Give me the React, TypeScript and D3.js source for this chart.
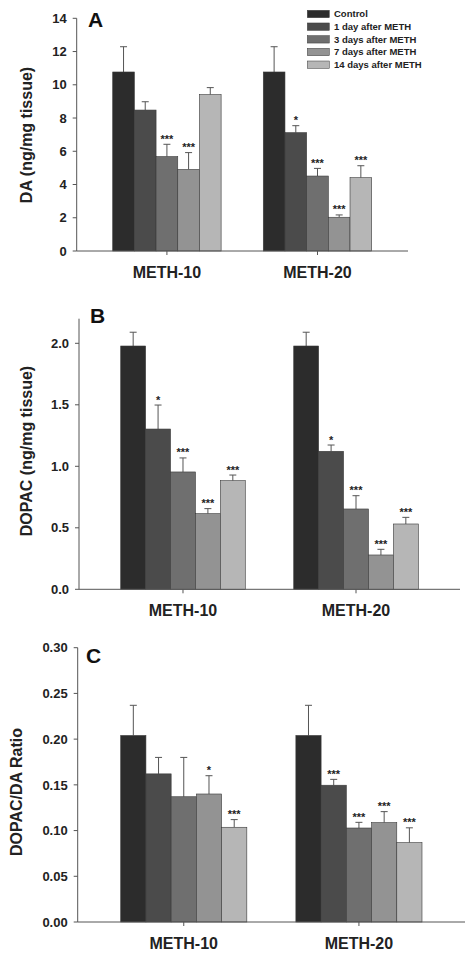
import React from "react";
import * as d3 from "d3";

const groups = ["METH-10", "METH-20"];
const seriesNames = ["Control", "1 day after METH", "3 days after METH", "7 days after METH", "14 days after METH"];
const seriesColors = ["#2c2c2c", "#4b4b4b", "#6f6f6f", "#939393", "#b6b6b6"];

// Panel A: DA
const daMeth10 = [10.77, 8.48, 5.68, 4.91, 9.41];
const daMeth10Err = [1.52, 0.5, 0.74, 1.01, 0.42];
const daMeth20 = [10.77, 7.12, 4.51, 2.03, 4.41];
const daMeth20Err = [1.52, 0.42, 0.46, 0.14, 0.72];
const daStars10 = ["", "", "***", "***", ""];
const daStars20 = ["", "*", "***", "***", "***"];
const daTicks = [0, 2, 4, 6, 8, 10, 12, 14];

// Panel B: DOPAC
const dopacMeth10 = [1.978, 1.303, 0.954, 0.615, 0.883];
const dopacMeth10Err = [0.112, 0.195, 0.114, 0.041, 0.046];
const dopacMeth20 = [1.978, 1.122, 0.653, 0.279, 0.531];
const dopacMeth20Err = [0.112, 0.051, 0.108, 0.046, 0.054];
const dopacStars10 = ["", "*", "***", "***", "***"];
const dopacStars20 = ["", "*", "***", "***", "***"];
const dopacTicks = [0, 0.5, 1.0, 1.5, 2.0];

// Panel C: DOPAC/DA ratio
const ratioMeth10 = [0.204, 0.162, 0.137, 0.14, 0.1036];
const ratioMeth10Err = [0.033, 0.018, 0.043, 0.02, 0.0084];
const ratioMeth20 = [0.204, 0.1496, 0.1028, 0.1087, 0.0868];
const ratioMeth20Err = [0.033, 0.0064, 0.0062, 0.012, 0.0162];
const ratioStars10 = ["", "", "", "*", "***"];
const ratioStars20 = ["", "***", "***", "***", "***"];
const ratioTicks = [0, 0.05, 0.1, 0.15, 0.2, 0.25, 0.3];

const FONT = "'Liberation Sans', Arial, sans-serif";

type PanelProps = {
  letter: string;
  yLabel: string;
  values: number[][];
  errors: number[][];
  stars: string[][];
  ticks: number[];
  fmt: (v: number) => string;
  yMax: number;
  axisX: number;
  axisRight: number;
  y0: number;
  yTop: number;
  bandL: number;
  bandR: number;
  letterX: number;
  letterY: number;
  yLabelX: number;
  yLabelY: number;
};

function Panel(p: PanelProps) {
  const y = d3.scaleLinear().domain([0, p.yMax]).range([p.y0, p.yTop]);
  const xg = d3.scaleBand<string>().domain(groups).range([p.bandL, p.bandR]).paddingInner(0.28).paddingOuter(0);
  const xs = d3.scaleBand<string>().domain(seriesNames).range([0, xg.bandwidth()]).padding(0);
  const bw = xs.bandwidth();
  return (
    <g>
      {groups.map((g, gi) =>
        seriesNames.map((s, si) => {
          const v = p.values[gi][si];
          const e = p.errors[gi][si];
          const x = (xg(g) as number) + (xs(s) as number);
          const cx = x + bw / 2;
          const top = y(v);
          const et = y(v + e);
          return (
            <g key={g + s}>
              <line x1={cx} x2={cx} y1={top} y2={et} stroke="#555" strokeWidth={1} />
              <line x1={cx - 3.5} x2={cx + 3.5} y1={et} y2={et} stroke="#555" strokeWidth={1} />
              <rect x={x} y={top} width={bw} height={p.y0 - top} fill={seriesColors[si]} stroke="#3a3a3a" strokeWidth={0.6} />
              {p.stars[gi][si] && (
                <text x={cx} y={et - 1.5} textAnchor="middle" fontSize={11} fontWeight="bold" fontFamily={FONT} fill="#222">
                  {p.stars[gi][si]}
                </text>
              )}
            </g>
          );
        })
      )}
      {/* axes */}
      <line x1={p.axisX} x2={p.axisX} y1={p.yTop} y2={p.y0} stroke="#555" strokeWidth={1} />
      <line x1={p.axisX} x2={p.axisRight} y1={p.y0} y2={p.y0} stroke="#555" strokeWidth={1} />
      {p.ticks.map((t) => (
        <g key={t}>
          <line x1={p.axisX - 4} x2={p.axisX} y1={y(t)} y2={y(t)} stroke="#555" strokeWidth={1} />
          <text x={p.axisX - 10} y={y(t)} dy="0.36em" textAnchor="end" fontSize={13} fontWeight="bold" fontFamily={FONT} fill="#222">
            {p.fmt(t)}
          </text>
        </g>
      ))}
      {groups.map((g) => {
        const cx = (xg(g) as number) + xg.bandwidth() / 2;
        return (
          <g key={g}>
            <line x1={cx} x2={cx} y1={p.y0} y2={p.y0 + 4} stroke="#555" strokeWidth={1} />
            <text x={cx} y={p.y0 + 26.5} textAnchor="middle" fontSize={16} fontWeight="bold" fontFamily={FONT} fill="#222">
              {g}
            </text>
          </g>
        );
      })}
      <text x={p.letterX} y={p.letterY} fontSize={21} fontWeight="bold" fontFamily={FONT} fill="#111">
        {p.letter}
      </text>
      <text
        transform={`translate(${p.yLabelX},${p.yLabelY}) rotate(-90)`}
        textAnchor="middle"
        fontSize={16}
        fontWeight="bold"
        fontFamily={FONT}
        fill="#222"
      >
        {p.yLabel}
      </text>
    </g>
  );
}

export default function App() {
  const legendY = d3.scalePoint<string>().domain(seriesNames).range([14, 64.7]);
  return (
    <svg width={474} height={958} style={{ position: "absolute", left: 0, top: 0, background: "#fff" }}>
      <rect x={0} y={0} width={474} height={958} fill="#fff" />
      <Panel
        letter="A"
        yLabel="DA (ng/mg tissue)"
        values={[daMeth10, daMeth20]}
        errors={[daMeth10Err, daMeth20Err]}
        stars={[daStars10, daStars20]}
        ticks={daTicks}
        fmt={(v) => d3.format("d")(v)}
        yMax={14}
        axisX={76.7}
        axisRight={408}
        y0={251}
        yTop={18.3}
        bandL={112.7}
        bandR={371.7}
        letterX={88}
        letterY={27}
        yLabelX={31.5}
        yLabelY={135}
      />
      <Panel
        letter="B"
        yLabel="DOPAC (ng/mg tissue)"
        values={[dopacMeth10, dopacMeth20]}
        errors={[dopacMeth10Err, dopacMeth20Err]}
        stars={[dopacStars10, dopacStars20]}
        ticks={dopacTicks}
        fmt={(v) => d3.format(".1f")(v)}
        yMax={2.2}
        axisX={79}
        axisRight={460}
        y0={589.3}
        yTop={318.7}
        bandL={120.7}
        bandR={418.3}
        letterX={90}
        letterY={323}
        yLabelX={31.5}
        yLabelY={451}
      />
      <Panel
        letter="C"
        yLabel="DOPAC/DA Ratio"
        values={[ratioMeth10, ratioMeth20]}
        errors={[ratioMeth10Err, ratioMeth20Err]}
        stars={[ratioStars10, ratioStars20]}
        ticks={ratioTicks}
        fmt={(v) => d3.format(".2f")(v)}
        yMax={0.3}
        axisX={77.7}
        axisRight={465}
        y0={922}
        yTop={647.7}
        bandL={120.7}
        bandR={422}
        letterX={86}
        letterY={663.3}
        yLabelX={21.5}
        yLabelY={792}
      />
      {seriesNames.map((s, i) => (
        <g key={s}>
          <rect x={307.3} y={(legendY(s) as number) - 3.7} width={22} height={7.4} fill={seriesColors[i]} stroke="#3a3a3a" strokeWidth={0.5} />
          <text x={334} y={legendY(s) as number} dy="0.36em" fontSize={9.5} fontWeight="bold" fontFamily={FONT} fill="#222">
            {s}
          </text>
        </g>
      ))}
    </svg>
  );
}
